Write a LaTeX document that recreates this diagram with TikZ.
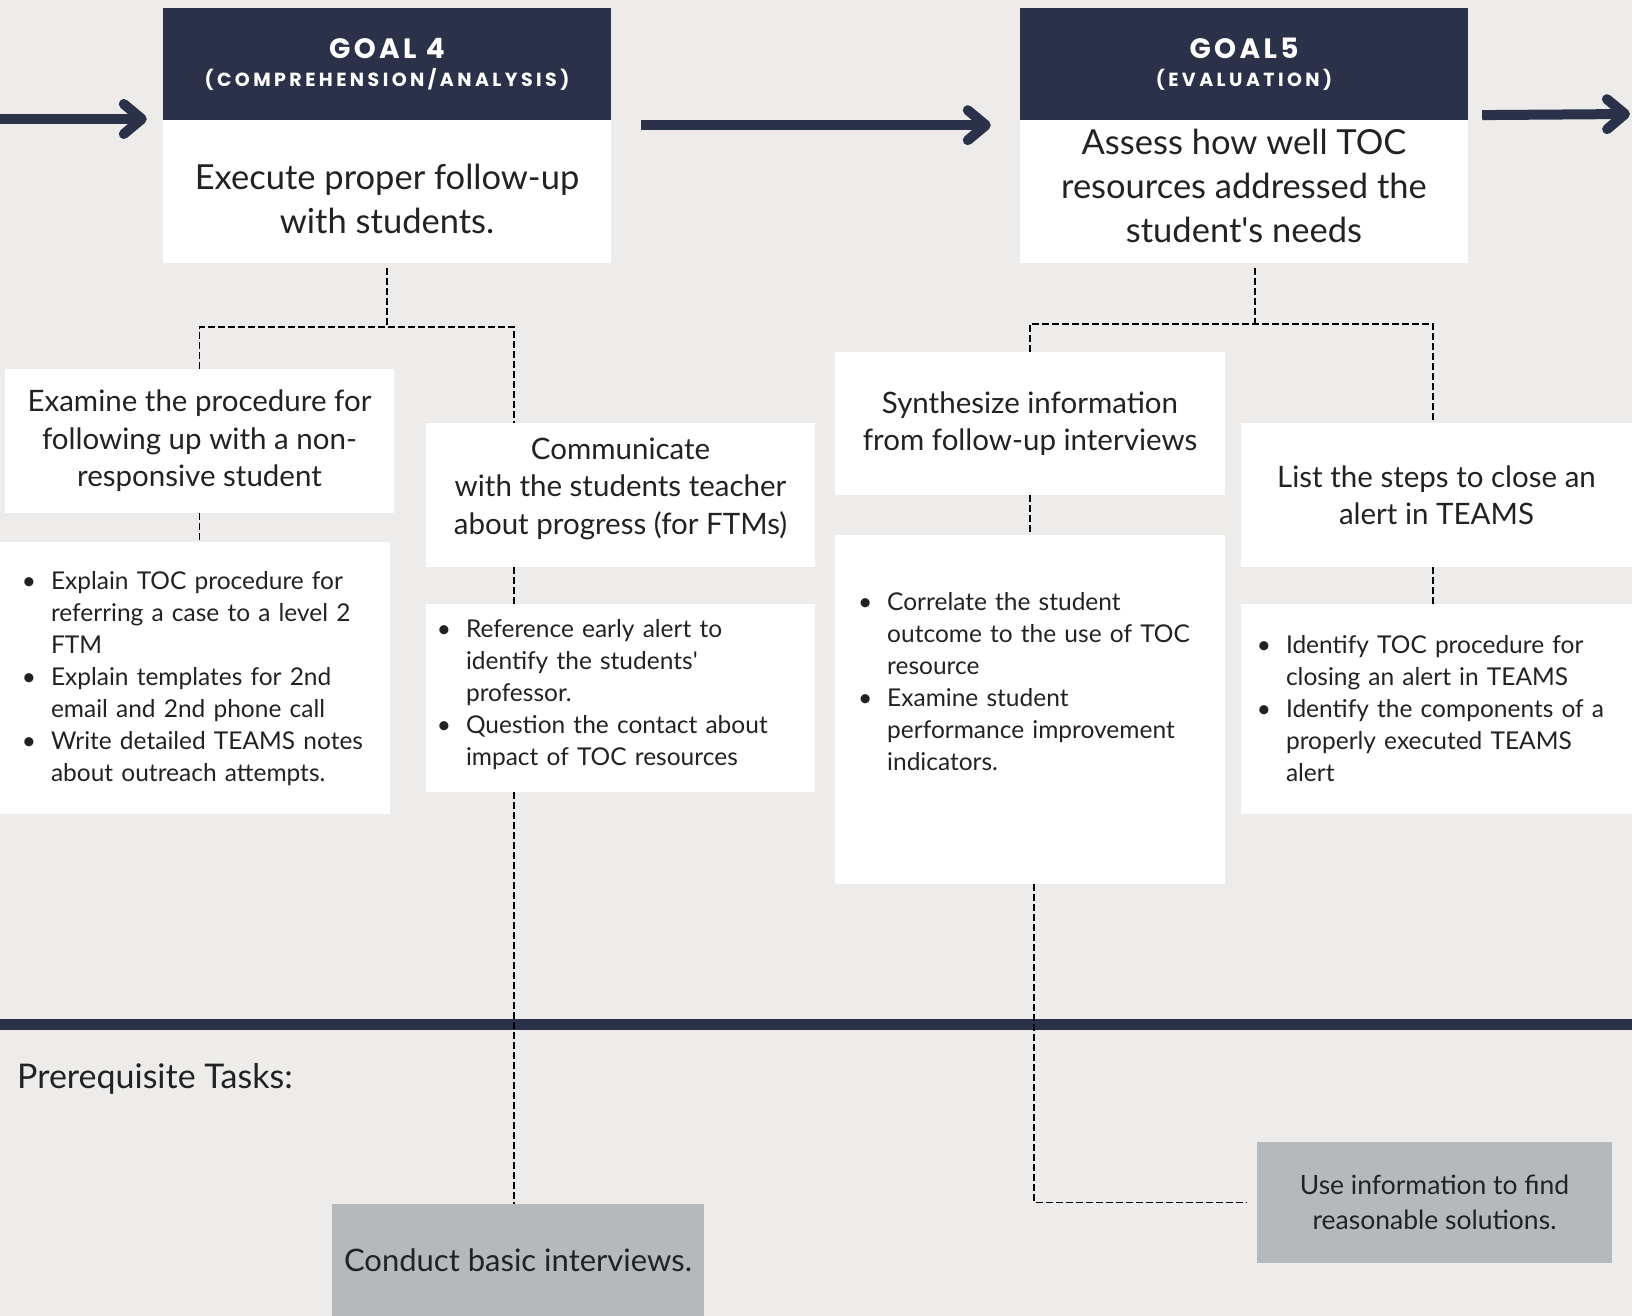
\documentclass[tikz,border=0pt]{standalone}
\usepackage{fontspec}
\setmainfont{Lato}
\newfontfamily\headfont{Poppins}[LetterSpace=12]
\usepackage{enumitem}
\setlist[itemize]{nosep,leftmargin=25pt,labelsep=15pt,label=\textbullet}
\usetikzlibrary{arrows.meta,positioning,calc}
\definecolor{navy}{RGB}{42,49,73}
\definecolor{paper}{RGB}{237,236,234}
\definecolor{stone}{RGB}{182,185,188}
\definecolor{ink}{RGB}{34,34,34}

\tikzset{
  goalhead/.style={fill=navy,text=white,minimum width=448pt,minimum height=113pt,align=center,inner sep=0pt,
    font=\headfont\bfseries\fontsize{19}{28}\selectfont},
  goalbody/.style={fill=white,text=ink,minimum width=448pt,minimum height=143pt,align=center,inner sep=0pt,
    font=\fontsize{34.5}{44}\selectfont},
  subbox/.style={fill=white,text=ink,minimum height=144pt,align=center,inner sep=0pt,
    font=\fontsize{29.5}{37.5}\selectfont},
  listbox/.style={fill=white,text=ink,align=left,inner sep=0pt,font=\fontsize{24.5}{32}\selectfont},
  prebox/.style={fill=stone,text=ink,align=center,inner sep=0pt},
  link/.style={draw=black,line width=1.8pt,dash pattern=on 7pt off 3pt},
  flow/.style={draw=navy,line width=10pt,-{Straight Barb[length=18pt,width=30pt,line cap=round,line join=round]}},
}

\begin{document}
\begin{tikzpicture}[x=1pt,y=-1pt]
\useasboundingbox (0,0) rectangle (1632,1316);
\fill[paper] (0,0) rectangle (1632,1316);
\fill[navy] (0,1019) rectangle (1632,1030);

% goals
\node[goalhead] (g4top) at (387,64.5) {{\fontsize{28}{28}\selectfont GOAL 4}\\{\addfontfeature{LetterSpace=18}(COMPREHENSION/ANALYSIS)}};
\node[goalbody] (g4) at (387,191.5) {\rule{0pt}{40pt}Execute proper follow-up\\with students.};
\node[goalhead] (g5top) at (1244,64.5) {{\fontsize{28}{28}\selectfont GOAL5}\\{\addfontfeature{LetterSpace=18}(EVALUATION)}};
\node[goalbody] (g5) at (1244,191.5) {Assess how well TOC\\resources addressed the\\student\textquotesingle s needs\rule[-12pt]{0pt}{0pt}};

\coordinate (in4) at (0,119);
\coordinate (out5) at (1630,114);
\draw[flow,shorten >=16pt] (in4) -- (in4 -| g4top.west);
\draw[flow,shorten <=30pt,shorten >=29pt] ([yshift=-4pt]g4top.south east) -- ([yshift=-4pt]g5top.south west);
\draw[flow,shorten <=14pt] ([yshift=6pt]g5top.south east) -- (out5);

% goal 4 tasks
\node[subbox,minimum width=389pt] (exa) at (199.5,441) {Examine the procedure for\\following up with a non-\\responsive student};
\node[listbox,minimum width=390pt,minimum height=272pt,text width=338pt] (exab) at (195,678) {\begin{itemize}
  \item Explain TOC procedure for\newline referring a case to a level 2\newline FTM
  \item Explain templates for 2nd\newline email and 2nd phone call
  \item Write detailed TEAMS notes\newline about outreach attempts.
\end{itemize}\vspace*{12.5pt}};
\node[subbox,minimum width=389pt] (com) at (620.5,495) {Communicate\\with the students teacher\\about progress (for FTMs)\rule[-18pt]{0pt}{0pt}};
\node[listbox,minimum width=389pt,minimum height=188pt,text width=359pt] (comb) at (620.5,698) {\begin{itemize}
  \item Reference early alert to\newline identify the students\textquotesingle\newline professor.
  \item Question the contact about\newline impact of TOC resources
\end{itemize}\vspace*{21pt}};

% goal 5 tasks
\node[subbox,minimum width=390pt,minimum height=143pt] (syn) at (1030,423.5) {Synthesize information\\from follow-up interviews};
\node[fill=white,minimum width=390pt,minimum height=349pt,inner sep=0pt] (synb) at (1030,709.5) {};
\node[listbox,text width=336pt,anchor=north west] (synbt) at (862,578.5) {\begin{itemize}
  \item Correlate the student\newline outcome to the use of TOC\newline resource
  \item Examine student\newline performance improvement\newline indicators.
\end{itemize}};
\node[subbox,minimum width=391pt] (lst) at (1436.5,495) {List the steps to close an\\alert in TEAMS};
\node[listbox,minimum width=391pt,minimum height=210pt,text width=351pt] (lstb) at (1436.5,709) {\begin{itemize}
  \item Identify TOC procedure for\newline closing an alert in TEAMS
  \item Identify the components of a\newline properly executed TEAMS\newline alert
\end{itemize}\vspace*{14.5pt}};

% prerequisites
\node[anchor=base west,text=ink,font=\fontsize{34}{40}\selectfont,inner sep=0pt] (pre) at (17,1088) {Prerequisite Tasks:};
\node[prebox,minimum width=372pt,minimum height=112pt,font=\fontsize{31}{36}\selectfont] (con) at (518,1260) {Conduct basic interviews.};
\node[prebox,minimum width=355pt,minimum height=121pt,font=\fontsize{26.5}{35}\selectfont] (use) at (1434.5,1202.5) {Use information to find\\reasonable solutions.};

% links
\coordinate (j4) at (387,327);
\coordinate (d4) at (514,327);
\coordinate (j5) at (1255,324);
\coordinate (d5) at (1433,324);
\draw[link,shorten <=5pt] (g4.south) -- (j4);
\draw[link] (exa.north) |- (d4) -- (d4 |- com.north);
\draw[link] (exa.south) -- (exa.south |- exab.north);
\draw[link] (d4 |- com.south) -- (d4 |- comb.north);
\draw[link] (d4 |- comb.south) -- (d4 |- con.north);
\draw[link,shorten <=5pt] ([xshift=11pt]g5.south) -- (j5);
\draw[link] (syn.north) |- (d5) -- (d5 |- lst.north);
\draw[link] (syn.south) -- (synb.north);
\draw[link] (d5 |- lst.south) -- (d5 |- lstb.north);
\draw[link] ([xshift=4pt]synb.south) |- ([xshift=-10pt]use.west);
\end{tikzpicture}
\end{document}
